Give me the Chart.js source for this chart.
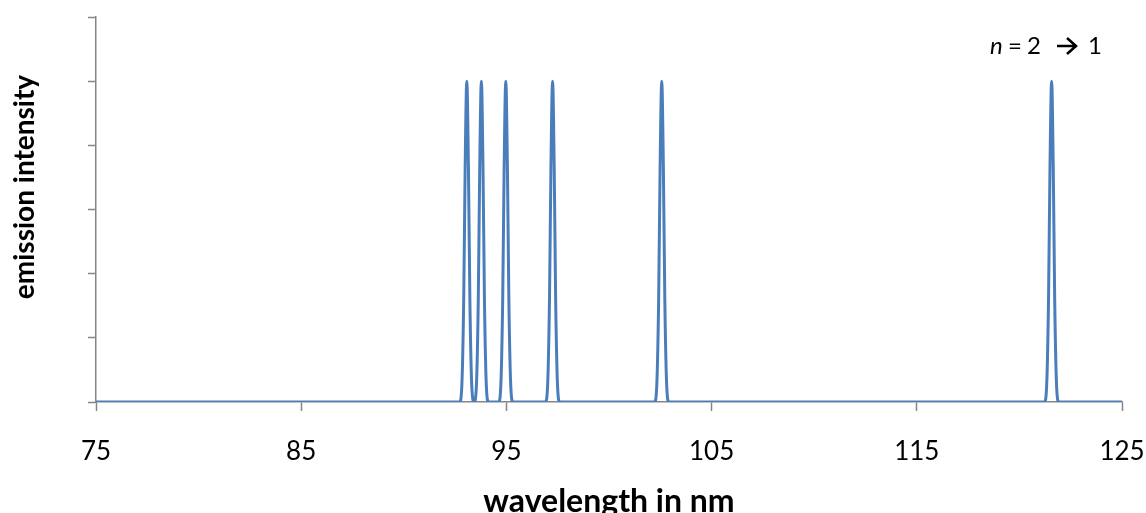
<!DOCTYPE html>
<html lang="en">
<head>
    <meta charset="UTF-8">
    <title>Emission spectrum</title>
    <style>
        html, body { margin: 0; padding: 0; background: #fff; }
        #wrap { width: 1146px; height: 513px; }
    </style>
</head>
<body>
    <div id="wrap">
        <canvas id="spectrum" width="1146" height="513"></canvas>
    </div>
    <script src="https://cdn.jsdelivr.net/npm/chart.js@4.4.1/dist/chart.umd.min.js"></script>
    <script>
        // wavelength (nm) and relative emission intensity
        var wavelength = [
            75,
            92.72, 92.82, 92.92, 92.99, 93.07, 93.15, 93.22, 93.32, 93.425,
            93.53, 93.63, 93.70, 93.78, 93.86, 93.93, 94.03, 94.13,
            94.62, 94.72, 94.82, 94.89, 94.97, 95.05, 95.12, 95.22, 95.32,
            96.90, 97.00, 97.10, 97.17, 97.25, 97.33, 97.40, 97.50, 97.60,
            102.22, 102.32, 102.42, 102.49, 102.57, 102.65, 102.72, 102.82, 102.92,
            121.22, 121.32, 121.42, 121.49, 121.57, 121.65, 121.72, 121.82, 121.92,
            125
        ];
        var intensity = [
            0,
            0, 0.04, 0.32, 0.73, 1, 0.73, 0.32, 0.04, 0,
            0.04, 0.32, 0.73, 1, 0.73, 0.32, 0.04, 0,
            0, 0.04, 0.32, 0.73, 1, 0.73, 0.32, 0.04, 0,
            0, 0.04, 0.32, 0.73, 1, 0.73, 0.32, 0.04, 0,
            0, 0.04, 0.32, 0.73, 1, 0.73, 0.32, 0.04, 0,
            0, 0.04, 0.32, 0.73, 1, 0.73, 0.32, 0.04, 0,
            0
        ];
        var xTicks = [75, 85, 95, 105, 115, 125];
        var yTicks = [0, 0.2, 0.4, 0.6, 0.8, 1.0, 1.2];

        var points = wavelength.map(function (w, i) {
            return { x: w, y: intensity[i] };
        });

        var axisGrey = '#868686';

        // titles and the transition label are drawn by hand so they sit where the original has them
        var textPlugin = {
            id: 'textPlugin',
            afterDraw: function (chart) {
                var ctx = chart.ctx;
                var area = chart.chartArea;
                ctx.save();
                ctx.fillStyle = '#000';
                ctx.textAlign = 'center';

                ctx.textBaseline = 'alphabetic';
                ctx.font = 'bold 32px Lato';
                ctx.fillText('wavelength in nm', (area.left + area.right) / 2, 512);

                ctx.textBaseline = 'middle';
                ctx.font = 'bold 28px Lato';
                ctx.save();
                ctx.translate(25, 187);
                ctx.rotate(-Math.PI / 2);
                ctx.fillText('emission intensity', 0, 0);
                ctx.restore();

                // "n = 2 -> 1"
                var y = 46;
                ctx.textAlign = 'left';
                ctx.font = 'italic 24px Lato';
                ctx.fillText('n', 990, y);
                ctx.font = '24px Lato';
                ctx.textAlign = 'center';
                ctx.fillText('=', 1015, y);
                ctx.textAlign = 'left';
                ctx.fillText('2', 1027, y);
                ctx.fillText('1', 1088, y);
                ctx.strokeStyle = '#000';
                ctx.lineWidth = 2.6;
                ctx.beginPath();
                ctx.moveTo(1057, y);
                ctx.lineTo(1075, y);
                ctx.moveTo(1067, y - 8);
                ctx.lineTo(1076, y);
                ctx.lineTo(1067, y + 8);
                ctx.stroke();
                ctx.restore();
            }
        };

        new Chart(document.getElementById('spectrum'), {
            type: 'line',
            data: {
                datasets: [{
                    data: points,
                    borderColor: '#4a7ebb',
                    borderWidth: 3,
                    pointRadius: 0,
                    tension: 0.4,
                    cubicInterpolationMode: 'monotone',
                    fill: false
                }]
            },
            options: {
                responsive: false,
                animation: false,
                layout: { padding: { top: 17, right: 24, left: 0, bottom: 0 } },
                plugins: {
                    legend: { display: false },
                    tooltip: { enabled: false }
                },
                scales: {
                    x: {
                        type: 'linear',
                        min: 75,
                        max: 125,
                        afterBuildTicks: function (axis) {
                            axis.ticks = xTicks.map(function (v) { return { value: v }; });
                        },
                        afterFit: function (axis) {
                            axis.height = 111;
                            axis.paddingLeft = 0;
                            axis.paddingRight = 0;
                        },
                        grid: {
                            drawOnChartArea: false,
                            drawTicks: true,
                            tickLength: 9,
                            tickColor: axisGrey,
                            tickWidth: 1.5
                        },
                        border: { color: axisGrey, width: 1.5 },
                        ticks: {
                            color: '#000',
                            padding: 25,
                            maxRotation: 0,
                            font: { family: 'Lato', size: 26 }
                        }
                    },
                    y: {
                        min: 0,
                        max: 1.2,
                        afterBuildTicks: function (axis) {
                            axis.ticks = yTicks.map(function (v) { return { value: v }; });
                        },
                        afterFit: function (axis) {
                            axis.width = 96;
                            axis.paddingTop = 0;
                            axis.paddingBottom = 0;
                        },
                        grid: {
                            drawOnChartArea: false,
                            drawTicks: true,
                            tickLength: 8,
                            tickColor: axisGrey,
                            tickWidth: 1.5
                        },
                        border: { color: axisGrey, width: 1.5 },
                        ticks: {
                            callback: function () { return ''; }
                        }
                    }
                }
            },
            plugins: [textPlugin]
        });
    </script>
</body>
</html>
